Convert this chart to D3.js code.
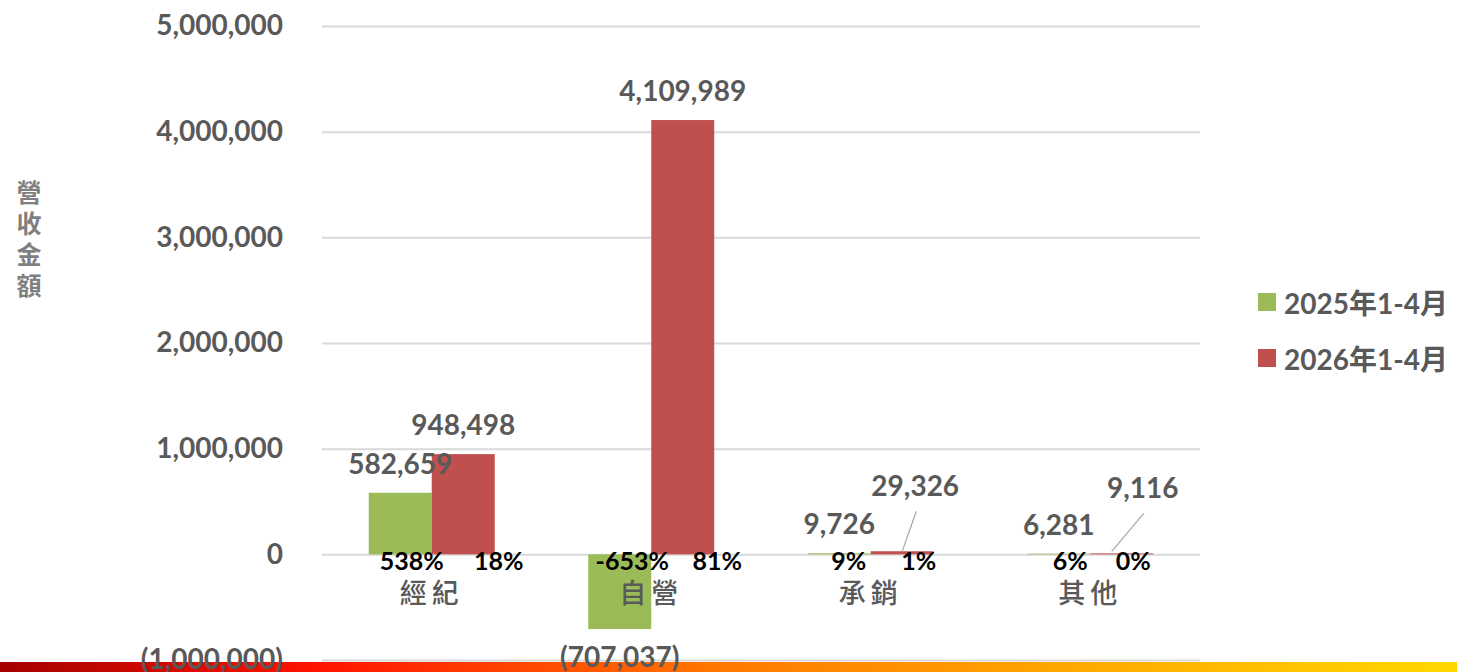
<!DOCTYPE html>
<html>
<head>
<meta charset="utf-8">
<script src="https://cdn.jsdelivr.net/npm/d3@7"></script>
<style>
  body { margin: 0; background: #fff; }
  svg { display: block; }
</style>
</head>
<body>
<div id="chart"></div>
<script>
// data
const categories = ["經紀", "自營", "承銷", "其他"];
const seriesNames = ["2025年1-4月", "2026年1-4月"];
const values2025 = [582659, -707037, 9726, 6281];
const values2026 = [948498, 4109989, 29326, 9116];
const share2025 = ["538%", "-653%", "9%", "6%"];
const share2026 = ["18%", "81%", "1%", "0%"];
const yTicks = [-1000000, 0, 1000000, 2000000, 3000000, 4000000, 5000000];
const yTitle = "營收金額";

const width = 1457, height = 672;
const colors = ["#9bbb59", "#c0504d"];
const textGray = "#595959";
const font = "Lato, 'Noto Sans CJK TC', sans-serif";
const cjk = "'Noto Sans CJK TC', sans-serif";

const svg = d3.select("#chart")
    .append("svg")
    .attr("width", width)
    .attr("height", height);

// gradient strip along the bottom edge
const grad = svg.append("defs").append("linearGradient")
    .attr("id", "strip")
    .attr("x1", "0%").attr("x2", "100%");
[["0%", "#a30000"], ["22%", "#ff1400"], ["50%", "#ff7a00"], ["75%", "#ffab00"], ["100%", "#ffd800"]]
    .forEach(s => grad.append("stop").attr("offset", s[0]).attr("stop-color", s[1]));
svg.append("rect")
    .attr("x", 0).attr("y", 662)
    .attr("width", width).attr("height", 10)
    .attr("fill", "url(#strip)");

const y = d3.scaleLinear()
    .domain([-1000000, 5000000])
    .range([660, 26]);

const x0 = d3.scaleBand()
    .domain(categories)
    .range([322, 1200])
    .paddingInner(0.426)
    .paddingOuter(0.213);

const x1 = d3.scaleBand()
    .domain(seriesNames)
    .range([0, x0.bandwidth()]);

const fmt = v => v < 0 ? "(" + d3.format(",")(-v) + ")" : d3.format(",")(v);

// grid + y axis
const yAxis = svg.append("g")
    .attr("transform", "translate(322,0)")
    .call(d3.axisLeft(y)
        .tickValues(yTicks)
        .tickSize(-878)
        .tickPadding(39)
        .tickFormat(fmt));
yAxis.select(".domain").remove();
yAxis.selectAll(".tick line").attr("stroke", "#d9d9d9").attr("stroke-width", 2);
yAxis.selectAll(".tick text")
    .attr("fill", textGray)
    .attr("font-family", font)
    .attr("font-weight", 700)
    .attr("font-size", 28);

// y title, written top to bottom
svg.append("text")
    .attr("x", 29)
    .attr("y", 180)
    .attr("writing-mode", "vertical-rl")
    .attr("fill", "#7f7f7f")
    .attr("font-family", cjk)
    .attr("font-weight", 700)
    .attr("font-size", 25)
    .attr("letter-spacing", 6)
    .text(yTitle);

const rows = categories.map((c, i) => ({
    cat: c,
    vals: [values2025[i], values2026[i]],
    shares: [share2025[i], share2026[i]]
}));

const groups = svg.append("g").selectAll("g")
    .data(rows)
    .join("g")
    .attr("transform", d => `translate(${x0(d.cat)},0)`);

groups.selectAll("rect")
    .data(d => d.vals.map((v, k) => ({ v, k })))
    .join("rect")
    .attr("x", d => x1(seriesNames[d.k]))
    .attr("width", x1.bandwidth())
    .attr("y", d => y(Math.max(0, d.v)))
    .attr("height", d => Math.abs(y(d.v) - y(0)))
    .attr("fill", d => colors[d.k]);

// value labels (tiny bars get lifted with a leader line)
groups.each(function (d) {
    const g = d3.select(this);
    d.vals.forEach((v, k) => {
        const cx = x1(seriesNames[k]) + x1.bandwidth() / 2;
        let lx = cx, ly;
        if (v < 0) ly = y(v) + 38;
        else ly = y(v) - 19;
        if (k === 1 && v < 50000) {
            lx = cx + (v > 20000 ? 13 : 21);
            ly = y(v) - 55;
            g.append("line")
                .attr("x1", lx + 1).attr("y1", ly + 15)
                .attr("x2", cx - (v > 20000 ? 0 : 10)).attr("y2", y(0) - 3)
                .attr("stroke", "#a6a6a6").attr("stroke-width", 1.2);
        }
        g.append("text")
            .attr("x", lx).attr("y", ly)
            .attr("text-anchor", "middle")
            .attr("fill", textGray)
            .attr("font-family", font)
            .attr("font-weight", 700)
            .attr("font-size", 28)
            .text(fmt(v));
    });
});

// share labels under the zero line
const shareShift2025 = [-20, -19, -22, -20];
const shareShift2026 = [67, 66, 48, 43];
groups.each(function (d, i) {
    const g = d3.select(this);
    const c = x0.bandwidth() / 2;
    [shareShift2025[i], shareShift2026[i]].forEach((s, k) => {
        g.append("text")
            .attr("x", c + s).attr("y", 570)
            .attr("text-anchor", "middle")
            .attr("fill", "#000")
            .attr("font-family", font)
            .attr("font-weight", 700)
            .attr("font-size", 25)
            .text(d.shares[k]);
    });
});

// category labels
svg.append("g").selectAll("text")
    .data(categories)
    .join("text")
    .attr("x", d => x0(d) + x0.bandwidth() / 2)
    .attr("y", 603)
    .attr("text-anchor", "middle")
    .attr("fill", textGray)
    .attr("font-family", cjk)
    .attr("font-weight", 500)
    .attr("font-size", 27)
    .attr("letter-spacing", 5)
    .text(d => d);

// legend
const legend = svg.append("g").selectAll("g")
    .data(seriesNames)
    .join("g")
    .attr("transform", (d, i) => `translate(1258,${293 + i * 56})`);
legend.append("rect")
    .attr("width", 18).attr("height", 18)
    .attr("fill", (d, i) => colors[i]);
legend.append("text")
    .attr("x", 26).attr("y", 21)
    .attr("fill", textGray)
    .attr("font-family", font)
    .attr("font-weight", 700)
    .attr("font-size", 28)
    .text(d => d);
</script>
</body>
</html>
